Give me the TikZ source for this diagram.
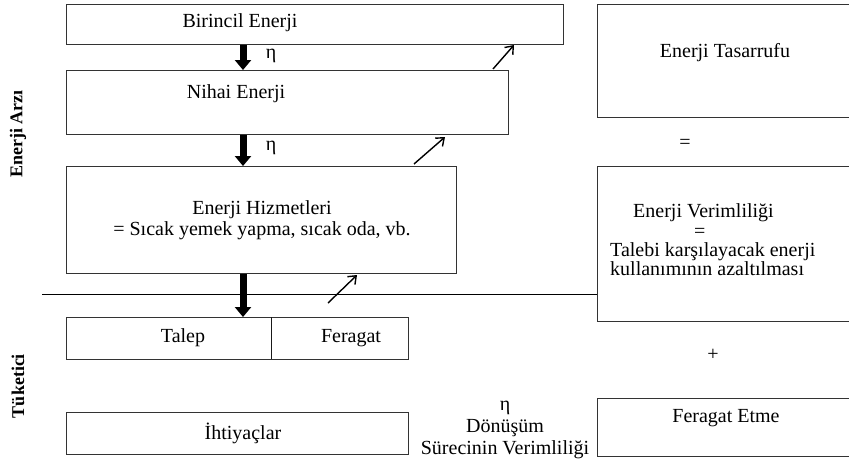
\documentclass[tikz,border=0pt]{standalone}
\usepackage{fontspec}
\setmainfont{Liberation Serif}
\usetikzlibrary{arrows.meta}
\begin{document}
\begin{tikzpicture}[x=1pt,y=-1pt,
  box/.style={draw=black!80, line width=1.1pt, rectangle, inner sep=0pt, anchor=north west},
  txt/.style={font=\fontsize{20}{21}\selectfont, inner sep=0pt, align=center},
  side/.style={font=\fontsize{18}{20}\selectfont\bfseries, rotate=90, inner sep=0pt},
  thickarr/.style={line width=7pt, -{Triangle[length=10pt,width=16pt]}},
  thinarr/.style={line width=1.4pt, -{Straight Barb[length=7pt,width=11pt]}}]
\useasboundingbox (0,0) rectangle (849,461);
\fill[white] (0,0) rectangle (849,461);
\clip (0,0) rectangle (849,461);

% left column boxes
\node[box, minimum width=497pt, minimum height=40pt] (b1) at (66,4) {};
\node[txt] (t1) at (240,23) {Birincil Enerji};
\node[box, minimum width=442pt, minimum height=64pt] (b2) at (66,70) {};
\node[txt] (t2) at (236,94) {Nihai Enerji};
\node[box, minimum width=390pt, minimum height=107pt] (b3) at (66,166) {};
\node[txt] (t3) at (262,220) {Enerji Hizmetleri\\= Sıcak yemek yapma, sıcak oda, vb.};
\node[box, minimum width=342pt, minimum height=42pt] (b4) at (66,317) {};
\draw[black!90, line width=1pt] (271,317) -- (271,359);
\node[txt] (talep) at (183,338) {Talep};
\node[txt] (ferg) at (351,338) {Feragat};
\node[box, minimum width=342pt, minimum height=42pt] (b5) at (66,412) {};
\node[txt] (iht) at (243,433) {İhtiyaçlar};

% right column boxes
\node[box, minimum width=260pt, minimum height=113pt] (r1) at (597,4) {};
\node[txt] (rt1) at (725,53) {Enerji Tasarrufu};
\node[txt] (eq1) at (685,144) {=};
\node[box, minimum width=260pt, minimum height=155pt] (r2) at (597,166) {};
\node[txt, font=\fontsize{20}{19.3}\selectfont, align=left, anchor=west] (rt2) at (610,240)
  {\hspace*{23pt}Enerji Verimliliği\\\hspace*{84pt}=\\Talebi karşılayacak enerji\\kullanımının azaltılması};
\node[txt] (plus) at (713,355) {+};
\node[box, minimum width=260pt, minimum height=58pt] (r3) at (597,398) {};
\node[txt] (rt3) at (726,418) {Feragat Etme};

% eta block
\node[txt, font=\fontsize{20}{22}\selectfont] (eta3) at (505,430) {η\\Dönüşüm\\Sürecinin Verimliliği};

% separating line
\coordinate (l0) at (42,294);
\draw[line width=1pt] (l0) -- (l0 -| r2.west);

% side labels
\node[side] (arz) at (18,134) {Enerji Arzı};
\node[side] (tuk) at (18,386) {Tüketici};

% thick arrows
\coordinate (ax) at (243,0);
\draw[thickarr] (b1.south -| ax) -- (b2.north -| ax);
\draw[thickarr] (b2.south -| ax) -- (b3.north -| ax);
\draw[thickarr] (b3.south -| ax) -- (b4.north -| ax);
\node[txt] (eta1) at (271,56) {η};
\node[txt] (eta2) at (271,148) {η};

% thin arrows
\coordinate (s1) at (493,69);
\coordinate (e1) at (514,45);
\coordinate (s2) at (414,164);
\coordinate (e2) at (445,137);
\coordinate (s3) at (328,303);
\coordinate (e3) at (357,275);
\draw[thinarr] (s1) -- (e1);
\draw[thinarr] (s2) -- (e2);
\draw[thinarr] (s3) -- (e3);
\end{tikzpicture}
\end{document}
